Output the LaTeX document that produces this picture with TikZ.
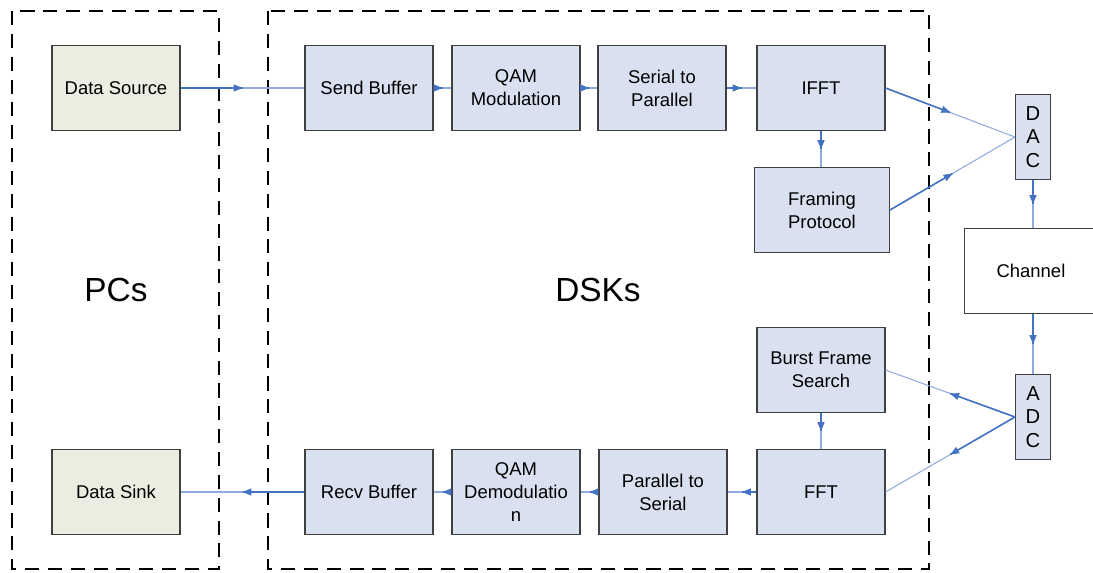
\documentclass[tikz,border=0pt]{standalone}
\usepackage{fontspec}
\setmainfont{Liberation Sans}
\usetikzlibrary{arrows.meta,decorations.markings}

\definecolor{boxblue}{RGB}{217,224,240}
\definecolor{boxbeige}{RGB}{236,237,225}
\definecolor{linedark}{RGB}{68,114,196}
\definecolor{linelight}{RGB}{143,170,220}

\begin{document}
\begin{tikzpicture}[x=0.02cm, y=-0.02cm,
    block_dsp/.style ={rectangle, draw=black!75, line width=0.6pt, fill=boxblue,
      minimum width=2.56cm, minimum height=1.7cm, align=center, inner sep=2pt,
      font=\fontsize{10.5}{13}\selectfont},
    block_pc/.style ={block_dsp, fill=boxbeige},
    block_conv/.style ={block_dsp, minimum width=0.7cm,
      font=\fontsize{11.5}{13.2}\selectfont},
    block_channel/.style ={block_dsp, fill=white, minimum width=2.66cm},
    group/.style ={draw=black, line width=1.3pt, dash pattern=on 8pt off 5pt},
    group_label/.style ={font=\fontsize{19}{23}\selectfont},
    % light line, dark first half and the arrow tip halfway
    line/.style ={draw=linelight, line width=0.6pt, postaction={decorate},
      decoration={markings, mark=at position 0.5 with {
        \draw[linedark, line width=0.9pt] (0,0) -- (-0.5*\pgfdecoratedpathlength,0);
        \arrow[linedark]{Triangle[length=5pt,width=4pt]}}}}]
    \useasboundingbox (0,0) rectangle (1093,572);
    % PC side and DSK side
    \draw[group] (12,11) rectangle (219,569);
    \draw[group] (268,11) rectangle (929,569);
    \node[group_label] (pcs_label) at (116,290) {PCs};
    \node[group_label] (dsks_label) at (598,290) {DSKs};
    % transmitter chain
    \node[block_pc] (data_source) at (116,88) {Data Source};
    \node[block_dsp] (send_buffer) at (369,88) {Send Buffer};
    \node[block_dsp] (qam_mod) at (516,88) {QAM\\Modulation};
    \node[block_dsp] (serial_parallel) at (662,88) {Serial to\\Parallel};
    \node[block_dsp] (ifft) at (821,88) {IFFT};
    \node[block_dsp, minimum width=2.7cm] (framing) at (822,210) {Framing\\Protocol};
    \node[block_conv] (dac) at (1033,137) {D\\A\\C};
    \node[block_channel] (channel) at (1031,271) {Channel};
    % receiver chain
    \node[block_conv] (adc) at (1033,417) {A\\D\\C};
    \node[block_dsp] (burst_search) at (821,370) {Burst Frame\\Search};
    \node[block_dsp] (fft) at (821,492) {FFT};
    \node[block_dsp] (parallel_serial) at (663,492) {Parallel to\\Serial};
    \node[block_dsp] (qam_demod) at (516,492) {QAM\\Demodulatio\\n};
    \node[block_dsp] (recv_buffer) at (369,492) {Recv Buffer};
    \node[block_pc] (data_sink) at (116,492) {Data Sink};
    % connecting nodes with paths
    \path[line] (data_source.east) -- (send_buffer.west);
    \path[line] (send_buffer.east) -- (qam_mod.west);
    \path[line] (qam_mod.east) -- (serial_parallel.west);
    \path[line] (serial_parallel.east) -- (ifft.west);
    \path[line] (ifft.south) -- (ifft.south |- framing.north);
    \path[line] (ifft.east) -- (dac.west);
    \path[line] (framing.east) -- (dac.west);
    \path[line] (dac.south) -- (dac.south |- channel.north);
    \path[line] (adc.north |- channel.south) -- (adc.north);
    \path[line] (adc.west) -- (burst_search.east);
    \path[line] (adc.west) -- (fft.east);
    \path[line] (burst_search.south) -- (fft.north);
    \path[line] (fft.west) -- (parallel_serial.east);
    \path[line] (parallel_serial.west) -- (qam_demod.east);
    \path[line] (qam_demod.west) -- (recv_buffer.east);
    \path[line] (recv_buffer.west) -- (data_sink.east);
\end{tikzpicture}
\end{document}
